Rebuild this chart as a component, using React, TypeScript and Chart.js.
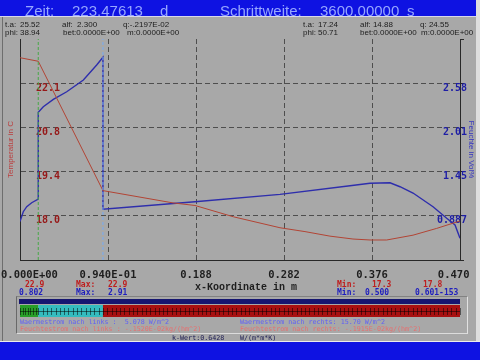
import React, { useEffect, useRef } from 'react';
import { Chart, registerables } from 'chart.js';

Chart.register(...registerables);

// ---------- data ----------
const xMin = 0;
const xMax = 0.47;
const xTickValues = [0, 0.094, 0.188, 0.282, 0.376, 0.47];
const xTickLabels = ['   0.000E+00', '0.940E-01', '0.188', '0.282', '0.376', '0.470  '];

const tempTickValues = [16.66, 18.03, 19.4, 20.77, 22.14, 23.51];
const tempTickLabels = ['', '18.0', '19.4', '20.8', '22.1', ''];
const humTickValues = [0.323, 0.887, 1.451, 2.015, 2.579, 3.143];
const humTickLabels = ['', '0.887', '1.45', '2.01', '2.58', ''];

const tempX = [0, 0.0195, 0.0886, 0.1634, 0.1869, 0.2279, 0.2777, 0.3044, 0.3311, 0.3557, 0.3739, 0.3917, 0.4198, 0.4451, 0.47];
const tempY = [22.93, 22.82, 18.81, 18.43, 18.35, 18.0, 17.66, 17.54, 17.4, 17.31, 17.28, 17.28, 17.43, 17.64, 17.87];

const humX = [0, 0.0035, 0.0072, 0.0125, 0.0195, 0.0195, 0.0249, 0.0356, 0.0499, 0.0677, 0.0819, 0.0886, 0.0886, 0.1869, 0.2777, 0.3525, 0.3739, 0.3952, 0.4059, 0.4198, 0.4412, 0.4558, 0.4647, 0.47];
const humY = [0.815, 0.939, 1.003, 1.054, 1.101, 2.208, 2.279, 2.373, 2.47, 2.62, 2.811, 2.91, 0.97, 1.067, 1.161, 1.271, 1.302, 1.309, 1.258, 1.178, 1.003, 0.855, 0.77, 0.6];

const layerBounds = [0, 0.0195, 0.0886, 0.47];
const layerNodes = [7, 15, 83];

// ---------- styles ----------
const GRAY = 'rgb(168,168,168)';
const GRID = 'rgb(78,78,78)';
const AXIS = 'rgb(40,40,40)';
const BAR_BLUE = 'rgb(14,18,226)';
const RED_LINE = 'rgb(178,68,52)';
const BLUE_LINE = 'rgb(46,46,172)';
const layerColors = ['rgb(40,158,40)', 'rgb(52,188,190)', 'rgb(168,16,16)'];
const boundaryColors = ['rgb(70,168,70)', 'rgb(120,172,242)'];
const MONO = '"DejaVu Sans Mono", monospace';
const MONO2 = '"Liberation Mono", "DejaVu Sans Mono", monospace';
const SANS = '"Liberation Sans", Arial, sans-serif';

const stripPlugin = {
  id: 'layerStrip',
  afterDraw(chart: any) {
    const ctx = chart.ctx as CanvasRenderingContext2D;
    const xs = chart.scales.x;
    const x0 = xs.getPixelForValue(layerBounds[0]);
    const x1 = xs.getPixelForValue(layerBounds[layerBounds.length - 1]);
    ctx.save();
    ctx.fillStyle = 'rgb(22,22,112)';
    ctx.fillRect(x0 - 1, 299, x1 - x0 + 1, 5);
    for (let i = 0; i < layerColors.length; i++) {
      const a = xs.getPixelForValue(layerBounds[i]);
      const b = xs.getPixelForValue(layerBounds[i + 1]);
      ctx.fillStyle = layerColors[i];
      ctx.fillRect(a, 305, b - a, 12);
      const n = layerNodes[i];
      ctx.strokeStyle = 'rgba(0,0,0,0.5)';
      ctx.lineWidth = 1;
      ctx.beginPath();
      ctx.moveTo(a, 311.5);
      ctx.lineTo(b, 311.5);
      for (let k = 0; k <= n; k++) {
        const px = Math.round(a + ((b - a) * k) / n) + 0.5;
        ctx.moveTo(px, 308);
        ctx.lineTo(px, 315);
      }
      ctx.stroke();
    }
    ctx.restore();
  },
};

const hideEnds = (n: number) => (c: any) => (c.index === 0 || c.index === n - 1 ? 'rgba(0,0,0,0)' : GRID);

function Txt(props: { x: number; y: number; size: number; color: string; font: string; bold?: boolean; children: string }) {
  return (
    <div
      style={{
        position: 'absolute',
        left: props.x,
        top: props.y,
        fontSize: props.size,
        lineHeight: props.size + 'px',
        color: props.color,
        fontFamily: props.font,
        fontWeight: props.bold ? 'bold' : 'normal',
        whiteSpace: 'pre',
      }}
    >
      {props.children}
    </div>
  );
}

export default function App() {
  const ref = useRef<HTMLCanvasElement>(null);
  useEffect(() => {
    const canvas = ref.current!;
    const tempData = tempX.map((x, i) => ({ x, y: tempY[i] }));
    const humData = humX.map((x, i) => ({ x, y: humY[i] }));
    const tMin = tempTickValues[0];
    const tMax = tempTickValues[tempTickValues.length - 1];
    const boundaryDatasets = layerBounds.slice(1, -1).map((b, i) => ({
      type: 'line' as const,
      data: [
        { x: b, y: tMin },
        { x: b, y: tMax },
      ],
      yAxisID: 'yT',
      borderColor: boundaryColors[i],
      borderWidth: 1,
      borderDash: [3, 2],
      pointRadius: 0,
      order: 0,
    }));
    const chart = new Chart(canvas, {
      type: 'line',
      data: {
        datasets: [
          {
            data: tempData,
            yAxisID: 'yT',
            borderColor: RED_LINE,
            borderWidth: 1,
            pointRadius: 0,
            tension: 0,
            order: 1,
          },
          {
            data: humData,
            yAxisID: 'yH',
            borderColor: BLUE_LINE,
            borderWidth: 1.4,
            pointRadius: 0,
            tension: 0,
            order: 1,
          },
          ...boundaryDatasets,
        ],
      },
      options: {
        animation: false,
        responsive: false,
        devicePixelRatio: 1,
        parsing: false,
        layout: { padding: { top: 39, bottom: 60, left: 0, right: 0 } },
        plugins: { legend: { display: false }, tooltip: { enabled: false } },
        scales: {
          x: {
            type: 'linear',
            min: xMin,
            max: xMax,
            afterBuildTicks: (s: any) => {
              s.ticks = xTickValues.map((v) => ({ value: v }));
            },
            afterFit: (s: any) => {
              s.height = 40;
              s.paddingLeft = 0;
              s.paddingRight = 0;
            },
            ticks: {
              autoSkip: false,
              maxRotation: 0,
              minRotation: 0,
              padding: 9,
              color: 'rgb(30,30,30)',
              font: { family: MONO, size: 10.5, weight: 'bold' },
              callback: (_v: any, i: number) => xTickLabels[i],
            },
            grid: { color: hideEnds(xTickValues.length), drawTicks: false, lineWidth: 1 },
            border: { display: true, color: AXIS, width: 1, dash: [5, 3] },
            title: {
              display: true,
              text: '  x-Koordinate in m',
              color: 'rgb(30,30,30)',
              font: { family: MONO2, size: 10, weight: 'bold' },
              padding: { top: 0, bottom: 7 },
            },
          },
          yT: {
            type: 'linear',
            position: 'left',
            min: tempTickValues[0],
            max: tempTickValues[tempTickValues.length - 1],
            afterBuildTicks: (s: any) => {
              s.ticks = tempTickValues.map((v) => ({ value: v }));
            },
            afterFit: (s: any) => {
              s.width = 20;
              s.paddingTop = 0;
              s.paddingBottom = 0;
            },
            ticks: {
              mirror: true,
              padding: 16,
              labelOffset: 5,
              color: 'rgb(150,24,24)',
              font: { family: MONO, size: 10, weight: 'bold' },
              callback: (_v: any, i: number) => tempTickLabels[i],
            },
            grid: { color: hideEnds(tempTickValues.length), drawTicks: false, lineWidth: 1 },
            border: { display: true, color: AXIS, width: 1, dash: [5, 3] },
            title: {
              display: true,
              text: 'Temperatur in C',
              color: 'rgb(186,62,62)',
              font: { family: SANS, size: 8 },
              padding: { top: 6, bottom: 0 },
            },
          },
          yH: {
            type: 'linear',
            position: 'right',
            min: humTickValues[0],
            max: humTickValues[humTickValues.length - 1],
            afterBuildTicks: (s: any) => {
              s.ticks = humTickValues.map((v) => ({ value: v }));
            },
            afterFit: (s: any) => {
              s.width = 20;
              s.paddingTop = 0;
              s.paddingBottom = 0;
            },
            ticks: {
              mirror: true,
              padding: 7,
              labelOffset: 5,
              color: 'rgb(30,30,165)',
              font: { family: MONO, size: 10, weight: 'bold' },
              callback: (_v: any, i: number) => humTickLabels[i],
            },
            grid: { drawOnChartArea: false, drawTicks: true, tickLength: 4, tickColor: AXIS },
            border: { display: true, color: AXIS, width: 1 },
            title: {
              display: true,
              text: 'Feuchte in Vol%',
              color: 'rgb(52,52,192)',
              font: { family: SANS, size: 8 },
              padding: { top: 4, bottom: 0 },
            },
          },
        },
      } as any,
      plugins: [stripPlugin],
    });
    return () => chart.destroy();
  }, []);

  const topColor = 'rgb(150,166,255)';
  const info = 'rgb(28,28,28)';
  const red = 'rgb(190,30,30)';
  const blue = 'rgb(30,30,190)';
  const wBlue = 'rgb(96,96,246)';
  const fRed = 'rgb(232,110,110)';

  return (
    <div style={{ position: 'fixed', left: 0, top: 0, width: 480, height: 360, background: GRAY, overflow: 'hidden' }}>
      {/* top bar */}
      <div style={{ position: 'absolute', left: 0, top: 0, width: 476, height: 16, background: BAR_BLUE }} />
      <div style={{ position: 'absolute', left: 0, top: 16, width: 476, height: 1, background: 'rgb(215,215,235)' }} />
      {/* frame lines */}
      <div style={{ position: 'absolute', left: 2, top: 17, width: 1, height: 324, background: 'rgb(110,110,110)' }} />
      <div style={{ position: 'absolute', left: 476, top: 0, width: 4, height: 360, background: 'rgb(222,222,222)' }} />
      <div style={{ position: 'absolute', left: 16, top: 296, width: 450, height: 36, borderLeft: '1px solid rgb(105,105,105)', borderTop: '1px solid rgb(130,130,130)', borderRight: '1px solid rgb(225,225,225)', borderBottom: '1px solid rgb(220,220,220)' }} />
      <div style={{ position: 'absolute', left: 0, top: 341, width: 480, height: 1, background: 'rgb(235,235,235)' }} />
      <div style={{ position: 'absolute', left: 0, top: 342, width: 480, height: 18, background: BAR_BLUE }} />

      <canvas ref={ref} width={480} height={360} style={{ position: 'absolute', left: 0, top: 0, width: 480, height: 360 }} />

      <Txt x={25} y={3.3} size={15} color={topColor} font={SANS}>Zeit:</Txt>
      <Txt x={72} y={3.3} size={15} color={topColor} font={SANS}>223.47613</Txt>
      <Txt x={160} y={3.3} size={15} color={topColor} font={SANS}>d</Txt>
      <Txt x={220} y={3.3} size={15} color={topColor} font={SANS}>Schrittweite:</Txt>
      <Txt x={320} y={3.3} size={15} color={topColor} font={SANS}>3600.00000</Txt>
      <Txt x={407} y={3.3} size={15} color={topColor} font={SANS}>s</Txt>

      <Txt x={5} y={20.5} size={8} color={info} font={SANS}>t.a:</Txt>
      <Txt x={20} y={20.5} size={8} color={info} font={SANS}>25.52</Txt>
      <Txt x={62} y={20.5} size={8} color={info} font={SANS}>alf:  2.300</Txt>
      <Txt x={123} y={20.5} size={8} color={info} font={SANS}>q:-.2197E-02</Txt>
      <Txt x={5} y={29.2} size={8} color={info} font={SANS}>phi:</Txt>
      <Txt x={20} y={29.2} size={8} color={info} font={SANS}>38.94</Txt>
      <Txt x={63} y={29.2} size={8} color={info} font={SANS}>bet:0.0000E+00</Txt>
      <Txt x={127} y={29.2} size={8} color={info} font={SANS}>m:0.0000E+00</Txt>

      <Txt x={303} y={20.5} size={8} color={info} font={SANS}>t.a:</Txt>
      <Txt x={318} y={20.5} size={8} color={info} font={SANS}>17.24</Txt>
      <Txt x={360} y={20.5} size={8} color={info} font={SANS}>alf: 14.88</Txt>
      <Txt x={420} y={20.5} size={8} color={info} font={SANS}>q: 24.55</Txt>
      <Txt x={303} y={29.2} size={8} color={info} font={SANS}>phi:</Txt>
      <Txt x={318} y={29.2} size={8} color={info} font={SANS}>50.71</Txt>
      <Txt x={360} y={29.2} size={8} color={info} font={SANS}>bet:0.0000E+00</Txt>
      <Txt x={421} y={29.2} size={8} color={info} font={SANS}>m:0.0000E+00</Txt>

      <Txt x={25} y={281.2} size={8} color={red} font={MONO} bold>22.9</Txt>
      <Txt x={76} y={281.2} size={8} color={red} font={MONO} bold>Max:</Txt>
      <Txt x={108} y={281.2} size={8} color={red} font={MONO} bold>22.9</Txt>
      <Txt x={337} y={281.2} size={8} color={red} font={MONO} bold>Min:</Txt>
      <Txt x={372} y={281.2} size={8} color={red} font={MONO} bold>17.3</Txt>
      <Txt x={423} y={281.2} size={8} color={red} font={MONO} bold>17.8</Txt>
      <Txt x={19} y={288.5} size={8} color={blue} font={MONO} bold>0.802</Txt>
      <Txt x={76} y={288.5} size={8} color={blue} font={MONO} bold>Max:</Txt>
      <Txt x={108} y={288.5} size={8} color={blue} font={MONO} bold>2.91</Txt>
      <Txt x={337} y={288.5} size={8} color={blue} font={MONO} bold>Min:</Txt>
      <Txt x={365} y={288.5} size={8} color={blue} font={MONO} bold>0.500</Txt>
      <Txt x={415} y={288.5} size={8} color={blue} font={MONO} bold>0.601-153</Txt>

      <Txt x={20} y={319.3} size={6.7} color={wBlue} font={MONO}>Waermestrom nach links :  5.078 W/m^2</Txt>
      <Txt x={20} y={325.8} size={6.7} color={fRed} font={MONO}>Feuchtestrom nach links : -.1520E-02kg/(hm^2)</Txt>
      <Txt x={240} y={319.3} size={6.7} color={wBlue} font={MONO}>Waermestrom nach rechts: 15.70 W/m^2</Txt>
      <Txt x={240} y={325.8} size={6.7} color={fRed} font={MONO}>Feuchtestrom nach rechts: -.1915E-02kg/(hm^2)</Txt>
      <Txt x={172} y={334.8} size={6.7} color={'rgb(24,24,80)'} font={MONO}>k-Wert:0.6428</Txt>
      <Txt x={240} y={334.8} size={6.7} color={'rgb(24,24,80)'} font={MONO}>W/(m*m*K)</Txt>
    </div>
  );
}
